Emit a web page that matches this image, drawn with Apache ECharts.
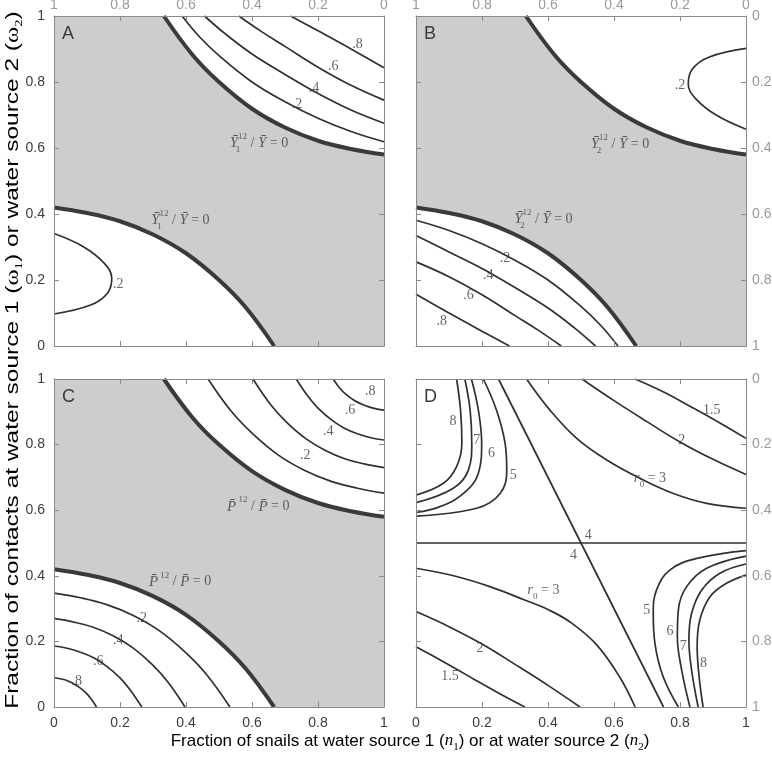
<!DOCTYPE html>
<html>
<head>
<meta charset="utf-8">
<script src="https://cdn.jsdelivr.net/npm/echarts@6/dist/echarts.min.js"></script>
<style>
html, body { margin: 0; padding: 0; background: #fff; }
#main { width: 772px; height: 760px; }
</style>
</head>
<body>
<div id="main"></div>
<script>
// zero-contour (thick) curves, shared by panels A, B, C
var thickLow = [[0, 0.42], [0.1, 0.403], [0.2, 0.378], [0.3, 0.338], [0.4, 0.281], [0.5, 0.2], [0.58, 0.118], [0.667, 0]];
var thickHigh = [[0.333, 1], [0.42, 0.882], [0.5, 0.8], [0.6, 0.719], [0.7, 0.662], [0.8, 0.622], [0.9, 0.597], [1, 0.58]];

// panel A contours
var a2 = [[0.388, 1], [0.44, 0.938], [0.5, 0.88], [0.6, 0.8], [0.7, 0.74], [0.8, 0.69], [0.9, 0.65], [1, 0.619]];
var a4 = [[0.456, 1], [0.52, 0.945], [0.6, 0.885], [0.7, 0.823], [0.8, 0.765], [0.9, 0.715], [1, 0.675]];
var a6 = [[0.56, 1], [0.63, 0.952], [0.7, 0.908], [0.8, 0.845], [0.9, 0.79], [1, 0.745]];
var a8 = [[0.717, 1], [0.8, 0.955], [0.9, 0.9], [1, 0.843]];
var aLoop = [[0, 0.341], [0.089, 0.301], [0.152, 0.251], [0.175, 0.205], [0.162, 0.16], [0.111, 0.124], [0, 0.097]];

// panel B contours
var b2 = [[0, 0.381], [0.1, 0.35], [0.2, 0.31], [0.3, 0.26], [0.4, 0.2], [0.5, 0.12], [0.56, 0.062], [0.612, 0]];
var b4 = [[0, 0.335], [0.1, 0.285], [0.2, 0.235], [0.3, 0.177], [0.4, 0.115], [0.48, 0.055], [0.544, 0]];
var b6 = [[0, 0.255], [0.1, 0.21], [0.2, 0.155], [0.3, 0.092], [0.37, 0.048], [0.44, 0]];
var b8 = [[0, 0.157], [0.1, 0.1], [0.2, 0.045], [0.283, 0]];
var bLoop = [[1, 0.657], [0.911, 0.699], [0.848, 0.749], [0.825, 0.793], [0.838, 0.84], [0.889, 0.876], [1, 0.902]];

// panel C contours
var c2L = [[0, 0.347], [0.08, 0.333], [0.16, 0.312], [0.24, 0.279], [0.32, 0.232], [0.4, 0.165], [0.464, 0.097], [0.533, 0]];
var c4L = [[0, 0.27], [0.06, 0.259], [0.119, 0.243], [0.179, 0.217], [0.238, 0.181], [0.298, 0.129], [0.345, 0.076], [0.397, 0]];
var c6L = [[0, 0.186], [0.04, 0.179], [0.08, 0.167], [0.12, 0.15], [0.16, 0.124], [0.2, 0.089], [0.231, 0.052], [0.266, 0]];
var c8L = [[0, 0.09], [0.019, 0.086], [0.039, 0.081], [0.058, 0.072], [0.077, 0.06], [0.097, 0.043], [0.112, 0.025], [0.129, 0]];
var c2H = [[0.467, 1], [0.536, 0.903], [0.6, 0.835], [0.68, 0.768], [0.76, 0.721], [0.84, 0.688], [0.92, 0.667], [1, 0.652]];
var c4H = [[0.603, 1], [0.655, 0.924], [0.702, 0.871], [0.762, 0.819], [0.821, 0.783], [0.881, 0.757], [0.94, 0.741], [1, 0.73]];
var c6H = [[0.734, 1], [0.769, 0.948], [0.8, 0.911], [0.84, 0.876], [0.88, 0.85], [0.92, 0.833], [0.96, 0.821], [1, 0.814]];
var c8H = [[0.846, 1], [0.866, 0.972], [0.885, 0.953], [0.908, 0.936], [0.931, 0.924], [0.954, 0.915], [0.977, 0.909], [1, 0.905]];

// panel D contours (r0)
var dHoriz = [[0, 0.5], [1, 0.5]];
var dDiag = [[0.25, 1], [0.75, 0]];
var d15H = [[0.664, 1], [0.749, 0.961], [0.83, 0.917], [0.921, 0.866], [1, 0.819]];
var d2H = [[0.503, 1], [0.6, 0.934], [0.7, 0.87], [0.8, 0.808], [0.9, 0.755], [1, 0.709]];
var d3H = [[0.335, 1], [0.406, 0.905], [0.487, 0.819], [0.578, 0.753], [0.679, 0.697], [0.78, 0.651], [0.881, 0.621], [1, 0.606]];
var d3L = [[0, 0.423], [0.123, 0.398], [0.224, 0.367], [0.325, 0.328], [0.4, 0.297], [0.467, 0.259], [0.547, 0.19], [0.618, 0.09], [0.664, 0]];
var d2L = [[0, 0.291], [0.1, 0.245], [0.2, 0.192], [0.3, 0.13], [0.4, 0.066], [0.497, 0]];
var d15L = [[0, 0.184], [0.079, 0.14], [0.17, 0.088], [0.251, 0.042], [0.33, 0]];
var d8UL = [[0.123, 1], [0.135, 0.905], [0.139, 0.804], [0.123, 0.733], [0.083, 0.682], [0, 0.646]];
var d7UL = [[0.148, 1], [0.164, 0.905], [0.169, 0.804], [0.159, 0.723], [0.113, 0.667], [0, 0.623]];
var d6UL = [[0.168, 1], [0.189, 0.905], [0.199, 0.804], [0.189, 0.713], [0.144, 0.651], [0.073, 0.611], [0, 0.593]];
var d5UL = [[0.204, 1], [0.244, 0.905], [0.27, 0.804], [0.275, 0.723], [0.255, 0.651], [0.184, 0.606], [0, 0.582]];
var d5LR = [[0.795, 0], [0.749, 0.092], [0.724, 0.194], [0.719, 0.286], [0.729, 0.357], [0.77, 0.418], [0.851, 0.453], [1, 0.477]];
var d6LR = [[0.83, 0], [0.805, 0.113], [0.792, 0.214], [0.795, 0.296], [0.82, 0.367], [0.881, 0.423], [1, 0.46]];
var d7LR = [[0.855, 0], [0.835, 0.113], [0.827, 0.204], [0.835, 0.285], [0.866, 0.357], [0.921, 0.408], [1, 0.436]];
var d8LR = [[0.87, 0], [0.858, 0.092], [0.852, 0.184], [0.86, 0.265], [0.891, 0.336], [0.941, 0.377], [1, 0.402]];

// contour labels [x, y, text]
var yLbl1 = '{i|Y\u0304}{sbz|1}{sp|12}{n| / }{i|Y\u0304}{n| = 0}';
var yLbl2 = '{i|Y\u0304}{sbz|2}{sp|12}{n| / }{i|Y\u0304}{n| = 0}';
var pLbl = '{i|P\u0304}{sp| 12}{n| / }{i|P\u0304}{n| = 0}';
var r3Lbl = '{i|r}{sb|0}{n| = 3}';
var labelsA = [[0.92, 0.915, '.8'], [0.846, 0.846, '.6'], [0.788, 0.78, '.4'], [0.736, 0.733, '.2'], [0.195, 0.188, '.2'], [0.621, 0.614, yLbl1], [0.383, 0.382, yLbl1]];
var labelsB = [[0.8, 0.791, '.2'], [0.618, 0.612, yLbl2], [0.386, 0.384, yLbl2], [0.27, 0.266, '.2'], [0.219, 0.215, '.4'], [0.159, 0.155, '.6'], [0.078, 0.074, '.8']];
var labelsC = [[0.958, 0.961, '.8'], [0.897, 0.905, '.6'], [0.831, 0.839, '.4'], [0.761, 0.768, '.2'], [0.619, 0.611, pLbl], [0.382, 0.382, pLbl], [0.266, 0.27, '.2'], [0.195, 0.204, '.4'], [0.134, 0.138, '.6'], [0.069, 0.077, '.8']];
var labelsD = [[0.896, 0.905, '1.5'], [0.805, 0.814, '2'], [0.709, 0.697, r3Lbl], [0.112, 0.87, '8'], [0.184, 0.814, '7'], [0.229, 0.773, '6'], [0.295, 0.707, '5'], [0.522, 0.524, '4'], [0.477, 0.463, '4'], [0.386, 0.357, r3Lbl], [0.194, 0.179, '2'], [0.103, 0.092, '1.5'], [0.699, 0.296, '5'], [0.77, 0.23, '6'], [0.81, 0.184, '7'], [0.871, 0.133, '8']];

var DARK = '#3c3c3c';
var GREY = '#9a9a9a';
var FRAME = '#8a8a8a';
var LINE = '#303030';

var boxes = [[54, 16, 330, 330], [416, 16, 330, 330], [54, 379, 330, 328], [416, 379, 330, 328]];
var shaded = [true, true, true, false];
// label colours per panel: [bottom, top, left, right]
var lblCols = [
    [null, GREY, DARK, null],
    [null, GREY, null, GREY],
    [DARK, null, DARK, null],
    [DARK, null, null, GREY]
];

var lblRich = {
    n: { fontFamily: 'Liberation Serif', fontSize: 14, color: DARK, lineHeight: 22 },
    i: { fontFamily: 'Liberation Serif', fontStyle: 'italic', fontSize: 15, color: DARK, lineHeight: 22 },
    sp: { fontFamily: 'Liberation Serif', fontSize: 9, color: DARK, lineHeight: 22, verticalAlign: 'top' },
    sb: { fontFamily: 'Liberation Serif', fontSize: 9, color: DARK, lineHeight: 22, verticalAlign: 'bottom' },
    sbz: { fontFamily: 'Liberation Serif', fontSize: 9, color: DARK, lineHeight: 22, verticalAlign: 'bottom', width: 0 }
};

function makeAxis(g, pos, col) {
    var margins = { bottom: 9, top: 4, left: 9, right: 6 };
    return {
        type: 'value', gridIndex: g, position: pos, min: 0, max: 1, interval: 0.2, z: 6,
        inverse: pos === 'top' || pos === 'right',
        axisLine: { show: true, onZero: false, lineStyle: { color: FRAME, width: 1 } },
        axisTick: { show: true, inside: true, length: 5, lineStyle: { color: FRAME } },
        splitLine: { show: false },
        axisLabel: {
            show: !!col, color: col || DARK, fontFamily: 'Liberation Sans', fontSize: 14,
            margin: margins[pos], showMinLabel: true, showMaxLabel: true
        }
    };
}

function thin(g, pts) {
    return {
        type: 'line', xAxisIndex: g * 2, yAxisIndex: g * 2, data: pts, smooth: 0.4,
        symbol: 'none', silent: true, z: 3,
        lineStyle: { color: LINE, width: 1.7 }
    };
}

function thick(g, pts, origin) {
    return {
        type: 'line', xAxisIndex: g * 2, yAxisIndex: g * 2, data: pts, smooth: 0.4,
        symbol: 'none', silent: true, z: 2,
        lineStyle: { color: '#3a3a3a', width: 4 },
        areaStyle: { color: '#ffffff', opacity: 1, origin: origin }
    };
}

function labels(g, arr) {
    return {
        type: 'scatter', xAxisIndex: g * 2, yAxisIndex: g * 2, symbolSize: 0, silent: true, z: 5,
        data: arr.map(function (d) { return { value: [d[0], d[1]], name: d[2] }; }),
        label: {
            show: true, position: 'inside', formatter: function (p) { return p.name; },
            fontFamily: 'Liberation Serif', fontSize: 14, color: DARK, rich: lblRich
        }
    };
}

var grids = [], xAxes = [], yAxes = [];
boxes.forEach(function (b, g) {
    grids.push({
        left: b[0], top: b[1], width: b[2], height: b[3], containLabel: false, outerBoundsMode: 'none',
        show: shaded[g], backgroundColor: '#cdcdcf', borderWidth: 0
    });
    xAxes.push(makeAxis(g, 'bottom', lblCols[g][0]));
    xAxes.push(makeAxis(g, 'top', lblCols[g][1]));
    yAxes.push(makeAxis(g, 'left', lblCols[g][2]));
    yAxes.push(makeAxis(g, 'right', lblCols[g][3]));
});

var series = [
    thick(0, thickLow, 'start'), thick(0, thickHigh, 'end'),
    thin(0, a2), thin(0, a4), thin(0, a6), thin(0, a8), thin(0, aLoop), labels(0, labelsA),
    thick(1, thickLow, 'start'), thick(1, thickHigh, 'end'),
    thin(1, b2), thin(1, b4), thin(1, b6), thin(1, b8), thin(1, bLoop), labels(1, labelsB),
    thick(2, thickLow, 'start'), thick(2, thickHigh, 'end'),
    thin(2, c2L), thin(2, c4L), thin(2, c6L), thin(2, c8L),
    thin(2, c2H), thin(2, c4H), thin(2, c6H), thin(2, c8H), labels(2, labelsC),
    thin(3, dHoriz), thin(3, dDiag), thin(3, d15H), thin(3, d2H), thin(3, d3H),
    thin(3, d3L), thin(3, d2L), thin(3, d15L),
    thin(3, d8UL), thin(3, d7UL), thin(3, d6UL), thin(3, d5UL),
    thin(3, d5LR), thin(3, d6LR), thin(3, d7LR), thin(3, d8LR), labels(3, labelsD)
];

var titleRich = {
    a: { fontFamily: 'Liberation Sans', fontSize: 17, color: DARK, lineHeight: 24 },
    ai: { fontFamily: 'Liberation Serif', fontStyle: 'italic', fontSize: 17, color: DARK, lineHeight: 24 },
    as: { fontFamily: 'Liberation Serif', fontSize: 11, color: DARK, lineHeight: 24, verticalAlign: 'bottom' },
    b: { fontFamily: 'Liberation Sans', fontSize: 17, color: GREY, lineHeight: 24 },
    bi: { fontFamily: 'Liberation Serif', fontStyle: 'italic', fontSize: 17, color: GREY, lineHeight: 24 },
    bs: { fontFamily: 'Liberation Serif', fontSize: 11, color: GREY, lineHeight: 24, verticalAlign: 'bottom' }
};
var yTitleRich = {
    a: { fontFamily: 'Liberation Sans', fontSize: 18, color: DARK, lineHeight: 24 },
    ai: { fontFamily: 'Liberation Serif', fontSize: 18, color: DARK, lineHeight: 24 },
    as: { fontFamily: 'Liberation Serif', fontSize: 11, color: DARK, lineHeight: 24, verticalAlign: 'bottom' },
    b: { fontFamily: 'Liberation Sans', fontSize: 18, color: GREY, lineHeight: 24 },
    bi: { fontFamily: 'Liberation Serif', fontSize: 18, color: GREY, lineHeight: 24 },
    bs: { fontFamily: 'Liberation Serif', fontSize: 11, color: GREY, lineHeight: 24, verticalAlign: 'bottom' }
};

var panelNames = ['A', 'B', 'C', 'D'];
var graphics = panelNames.map(function (t, g) {
    return {
        type: 'text', x: boxes[g][0] + 8, y: boxes[g][1] + 18, z: 10,
        style: { text: t, fill: DARK, font: '18px "Liberation Sans"', verticalAlign: 'middle' }
    };
});
graphics.push({
    type: 'text', x: 410, y: 741, z: 10,
    style: {
        text: '{a|Fraction of snails at water source 1 (}{ai|n}{as|1}{a|)}{b| or at water source 2 (}{bi|n}{bs|2}{b|)}',
        rich: titleRich, align: 'center', verticalAlign: 'middle'
    }
});
graphics.push({
    type: 'text', x: 13, y: 360, rotation: Math.PI / 2, scaleX: 1.36, z: 10,
    style: {
        text: '{a|Fraction of contacts at water source 1 (}{ai|\u03c9}{as|1}{a|)}{b| or water source 2 (}{bi|\u03c9}{bs|2}{b|)}',
        rich: yTitleRich, align: 'center', verticalAlign: 'middle'
    }
});

var chart = echarts.init(document.getElementById('main'), null, { renderer: 'canvas' });
chart.setOption({
    animation: false,
    grid: grids,
    xAxis: xAxes,
    yAxis: yAxes,
    series: series,
    graphic: graphics
});
</script>
</body>
</html>
